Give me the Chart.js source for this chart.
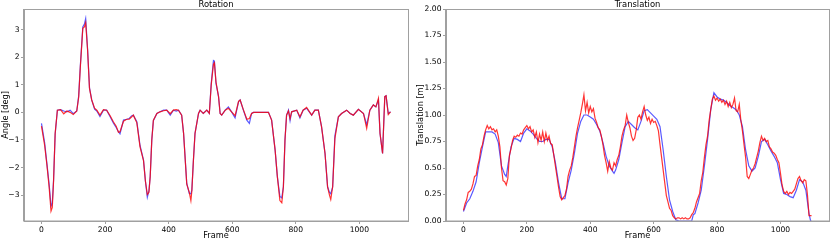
<!DOCTYPE html>
<html>
<head>
<meta charset="utf-8">
<script src="https://cdn.jsdelivr.net/npm/chart.js@4.4.0/dist/chart.umd.min.js"></script>
<style>
  html, body { margin: 0; padding: 0; background: #fff; }
  #wrap { position: relative; width: 830px; height: 241px; }
  .box { position: absolute; top: 0; width: 415px; height: 241px; }
</style>
</head>
<body>
<div id="wrap">
  <div class="box" style="left:0"><canvas id="rot" width="415" height="241"></canvas></div>
  <div class="box" style="left:415px"><canvas id="trans" width="415" height="241"></canvas></div>
</div>
<script>
// tick labels
var xTicks = [0, 200, 400, 600, 800, 1000];
var rotTicks = [-3, -2, -1, 0, 1, 2, 3];
var transTicks = [0, 0.25, 0.5, 0.75, 1, 1.25, 1.5, 1.75, 2];

// rotation (deg)
var rotFrames = [0,10,17,24,30,34,38,43,50,60,70,80,90,100,111,117,122,130,135,139,
  145,151,158,167,174,184,195,205,216,226,235,242,247,258,268,276,284,289,300,310,
  321,327,333,338,342,347,352,363,373,384,394,405,415,424,431,441,447,457,465,470,
  473,478,483,494,499,509,520,528,534,541,544,549,557,562,567,578,588,598,609,620,
  625,635,646,654,661,667,714,724,735,742,750,756,761,766,771,777,782,787,803,813,
  823,834,850,860,871,881,892,900,906,910,916,923,934,944,960,971,981,997,1013,1023,
  1033,1044,1052,1060,1065,1073,1080,1084,1091,1098];
var rotBlue = [-0.40,-1.10,-1.85,-2.60,-3.40,-3.30,-2.45,-0.80,0.08,0.10,0.05,0.02,0.08,-0.05,0.05,0.60,1.65,3.10,3.20,3.40,
  2.30,0.90,0.45,0.12,0.05,-0.15,0.08,0.08,-0.16,-0.38,-0.55,-0.70,-0.78,-0.28,-0.25,-0.22,-0.12,-0.10,-0.34,-1.20,
  -1.73,-2.50,-3.08,-2.85,-2.33,-1.00,-0.30,-0.04,0.02,0.08,0.08,-0.10,0.08,0.05,0.08,-0.10,-0.76,-2.58,-2.94,-2.95,
  -2.82,-1.73,-0.76,-0.04,0.08,-0.04,0.08,-0.04,1.05,1.88,1.86,1.05,0.57,-0.04,-0.10,0.08,0.20,0.02,-0.20,0.39,
  0.45,0.08,-0.28,-0.40,-0.04,0.00,0.00,-0.28,-1.37,-2.33,-3.05,-3.10,-2.70,-1.00,-0.10,0.08,-0.30,0.02,0.08,-0.20,
  0.08,0.15,-0.10,0.08,0.08,-0.52,-1.49,-2.70,-2.90,-2.95,-2.70,-0.85,-0.16,-0.04,0.08,-0.04,-0.10,0.11,-0.04,-0.45,
  0.08,0.27,0.20,0.45,-0.76,-1.49,0.57,0.60,-0.04,0.02];
var rotRed = [-0.50,-1.20,-1.90,-2.70,-3.58,-3.45,-2.50,-0.76,0.08,0.10,-0.05,0.05,0.00,-0.08,0.05,0.55,1.60,3.05,3.10,3.25,
  2.26,0.87,0.45,0.15,0.08,-0.10,0.10,0.08,-0.12,-0.34,-0.50,-0.72,-0.70,-0.32,-0.25,-0.25,-0.16,-0.10,-0.38,-1.25,
  -1.75,-2.50,-2.98,-2.90,-2.33,-1.00,-0.28,-0.04,0.02,0.06,0.08,-0.05,0.08,0.10,0.08,-0.10,-0.76,-2.60,-2.90,-3.20,
  -2.85,-1.73,-0.76,-0.04,0.08,-0.04,0.08,-0.04,1.00,1.75,1.80,1.10,0.57,-0.04,-0.10,0.08,0.15,0.02,-0.12,0.40,
  0.45,0.10,-0.25,-0.22,-0.04,0.00,0.00,-0.28,-1.37,-2.33,-3.20,-3.28,-2.70,-1.00,-0.10,0.05,-0.22,0.02,0.08,-0.16,
  0.08,0.18,-0.10,0.08,0.08,-0.52,-1.49,-2.70,-3.00,-3.16,-2.70,-0.95,-0.16,-0.04,0.08,-0.04,-0.10,0.11,-0.04,-0.58,
  0.08,0.27,0.20,0.51,-0.76,-1.49,0.57,0.60,-0.08,0.02];

// translation (m), blue = smooth estimate
var transBlueFrames = [0,10,20,30,40,50,60,70,80,90,100,110,120,130,135,
  140,150,160,170,180,190,200,210,220,230,240,250,260,270,280,290,300,310,320,330,
  340,350,360,370,380,390,400,410,420,430,440,450,460,470,475,
  480,490,500,510,520,530,540,550,560,570,580,590,600,610,620,630,640,650,660,670,680,
  720,725,730,740,750,760,770,780,790,800,810,820,830,840,850,860,870,880,890,900,910,920,
  930,940,950,960,970,980,990,1000,1010,1020,1030,1040,1050,1060,1070,1080,1090,1095,1098];
var transBlue = [0.09,0.17,0.21,0.28,0.37,0.55,0.70,0.84,0.84,0.84,0.82,0.74,0.52,0.44,0.42,
  0.52,0.70,0.78,0.77,0.75,0.83,0.87,0.85,0.82,0.78,0.75,0.75,0.77,0.77,0.70,0.55,0.36,0.21,0.21,0.36,
  0.48,0.64,0.83,0.94,1.00,1.00,0.98,0.96,0.91,0.85,0.74,0.61,0.52,0.47,0.45,
  0.48,0.58,0.74,0.89,0.94,0.91,0.88,0.86,0.94,1.04,1.05,1.02,0.99,0.96,0.89,0.67,0.42,0.20,0.09,0.01,0.00,
  0.00,0.06,0.07,0.17,0.29,0.52,0.77,1.05,1.21,1.17,1.15,1.14,1.12,1.09,1.07,1.05,1.00,0.89,0.67,0.52,0.47,0.50,
  0.61,0.75,0.77,0.72,0.66,0.61,0.55,0.39,0.26,0.25,0.23,0.22,0.29,0.39,0.37,0.29,0.07,0.00,0.00];

// translation (m), red = noisy estimate
var transRedFrames = [
  0,5,10,15,20,25,30,35,40,45,50,55,60,65,70,75,80,85,90,95,
  100,105,110,115,120,125,130,135,140,145,150,155,160,165,170,175,180,185,190,195,
  200,205,210,215,220,225,230,235,240,245,250,255,260,265,270,275,280,285,290,295,
  300,305,310,315,320,325,330,335,340,345,350,355,360,365,370,375,380,385,390,395,
  400,405,410,415,420,425,430,435,440,445,450,455,460,465,470,475,480,485,490,495,
  500,505,510,515,520,525,530,535,540,545,550,555,560,565,570,575,580,585,590,595,
  600,605,610,615,620,625,630,635,640,645,650,655,660,665,670,675,680,685,690,695,
  700,705,710,715,720,725,730,735,740,745,750,755,760,765,770,775,780,785,790,795,
  800,805,810,815,820,825,830,835,840,845,850,855,860,865,870,875,880,885,890,895,
  900,905,910,915,920,925,930,935,940,945,950,955,960,965,970,975,980,985,990,995,
  1000,1005,1010,1015,1020,1025,1030,1035,1040,1045,1050,1055,1060,1065,1070,1075,1080,1085,1090,1095,
  1098];
var transRed = [
  0.10,0.16,0.20,0.27,0.28,0.30,0.35,0.42,0.43,0.52,0.58,0.68,0.72,0.80,0.86,0.90,0.87,0.89,0.86,0.87,
  0.84,0.86,0.80,0.70,0.50,0.38,0.37,0.34,0.40,0.62,0.68,0.76,0.80,0.79,0.81,0.80,0.83,0.82,0.86,0.88,
  0.90,0.87,0.89,0.84,0.86,0.79,0.84,0.74,0.82,0.76,0.84,0.75,0.83,0.76,0.80,0.73,0.72,0.62,0.52,0.42,
  0.32,0.23,0.20,0.22,0.24,0.30,0.42,0.48,0.52,0.60,0.70,0.80,0.88,0.95,1.02,1.10,1.19,1.04,1.12,1.02,
  1.08,1.03,1.06,0.97,0.93,0.88,0.86,0.80,0.72,0.62,0.55,0.47,0.56,0.50,0.48,0.55,0.52,0.58,0.62,0.70,
  0.80,0.86,0.90,1.00,0.93,0.88,0.80,0.76,0.78,0.86,0.98,1.00,0.96,1.03,1.08,1.00,0.95,0.98,0.92,0.96,
  0.93,0.94,0.90,0.85,0.72,0.60,0.48,0.36,0.24,0.18,0.12,0.10,0.05,0.03,0.02,0.03,0.03,0.02,0.03,0.02,
  0.03,0.02,0.02,0.03,0.06,0.08,0.12,0.18,0.22,0.26,0.38,0.46,0.60,0.72,0.80,0.95,1.05,1.15,1.18,1.14,
  1.16,1.13,1.15,1.12,1.14,1.10,1.13,1.08,1.12,1.07,1.10,1.16,1.04,1.03,1.10,0.95,0.85,0.72,0.60,0.42,
  0.40,0.44,0.48,0.50,0.54,0.60,0.66,0.74,0.80,0.76,0.78,0.75,0.76,0.70,0.68,0.65,0.64,0.62,0.58,0.55,
  0.45,0.34,0.28,0.26,0.28,0.25,0.27,0.26,0.28,0.30,0.35,0.40,0.42,0.38,0.36,0.39,0.38,0.25,0.05,0.05,
  0.05];

var BLUE = 'rgba(0, 0, 255, 0.65)';
var RED = 'rgba(255, 0, 0, 0.8)';
var SPINE = '#a0a0a0';

Chart.defaults.font.family = "'DejaVu Sans', sans-serif";
Chart.defaults.color = '#000';

function pts(xs, ys) {
  var out = [];
  for (var i = 0; i < xs.length; i++) out.push({ x: xs[i], y: ys[i] });
  return out;
}

function minus(v) {
  return v < 0 ? '\u2212' + Math.abs(v) : String(v);
}

// box round the plot and the title above it
var framePlugin = {
  id: 'frame',
  afterDatasetsDraw: function(chart, args, opts) {
    var a = chart.chartArea, c = chart.ctx;
    c.save();
    c.strokeStyle = SPINE;
    c.lineWidth = 1;
    c.strokeRect(Math.round(a.left) - 0.5, Math.round(a.top) + 0.5,
      Math.round(a.right - a.left) + 1, Math.round(a.bottom - a.top) - 0.5);
    c.fillStyle = '#000';
    c.font = "8.4px 'DejaVu Sans'";
    c.textAlign = 'center';
    c.textBaseline = 'middle';
    c.fillText(opts.text, (a.left + a.right) / 2, 4.8);
    c.restore();
  }
};

function makeChart(id, datasets, cfg) {
  new Chart(document.getElementById(id), {
    type: 'line',
    data: { datasets: datasets },
    plugins: [framePlugin],
    options: {
      responsive: false,
      animation: false,
      devicePixelRatio: 1,
      layout: { padding: { top: 9, right: cfg.padRight, left: 0, bottom: 0 } },
      plugins: {
        legend: { display: false },
        tooltip: { enabled: false },
        frame: { text: cfg.title }
      },
      elements: { point: { radius: 0 }, line: { tension: 0, borderWidth: 1.2 } },
      scales: {
        x: {
          type: 'linear', min: -55, max: 1153,
          afterBuildTicks: function(s) { s.ticks = xTicks.map(function(v) { return { value: v }; }); },
          afterFit: function(s) { s.height = 20; },
          ticks: { font: { size: 7.6 }, padding: 1, maxRotation: 0, autoSkip: false,
                   callback: function(v) { return String(v); } },
          grid: { drawOnChartArea: false, tickLength: 3, color: SPINE },
          border: { color: SPINE },
          title: { display: true, text: 'Frame', font: { size: 8.2 }, padding: { top: 0, bottom: 0.5 } }
        },
        y: {
          type: 'linear', min: cfg.ymin, max: cfg.ymax,
          afterBuildTicks: function(s) { s.ticks = cfg.yTicks.map(function(v) { return { value: v }; }); },
          afterFit: function(s) { s.width = cfg.yWidth; },
          ticks: { font: { size: 7.6 }, padding: 1.5, autoSkip: false, callback: cfg.yFmt },
          grid: { drawOnChartArea: false, tickLength: 3, color: SPINE },
          border: { color: SPINE },
          title: { display: true, text: cfg.yTitle, font: { size: 8.2 }, padding: { top: 1, bottom: 0 } }
        }
      }
    }
  });
}

makeChart('rot', [
  { label: 'red', data: pts(rotFrames, rotRed), borderColor: RED },
  { label: 'blue', data: pts(rotFrames, rotBlue), borderColor: BLUE }
], {
  title: 'Rotation', yTitle: 'Angle [deg]', ymin: -3.94, ymax: 3.75,
  yTicks: rotTicks, yWidth: 24, padRight: 7, yFmt: minus
});

makeChart('trans', [
  { label: 'red', data: pts(transRedFrames, transRed), borderColor: RED },
  { label: 'blue', data: pts(transBlueFrames, transBlue), borderColor: BLUE }
], {
  title: 'Translation', yTitle: 'Translation [m]', ymin: 0, ymax: 2,
  yTicks: transTicks, yWidth: 31, padRight: 1, yFmt: function(v) { return v.toFixed(2); }
});
</script>
</body>
</html>
